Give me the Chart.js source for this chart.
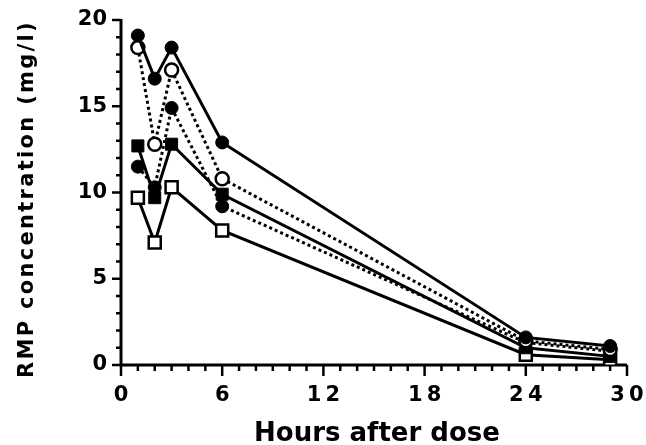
<!DOCTYPE html>
<html>
<head>
<meta charset="utf-8">
<script src="https://cdn.jsdelivr.net/npm/chart.js@4/dist/chart.umd.min.js"></script>
<style>
    html, body { margin: 0; padding: 0; background: #fff; }
    #wrap { width: 646px; height: 445px; }
</style>
</head>
<body>
<div id="wrap"><canvas id="rmp-chart"></canvas></div>
<script>
/* ============================================
   RMP concentration vs hours after dose
   ============================================ */
const hours = [1, 2, 3, 6, 24, 29];

// five profiles, top to bottom at hour 1
const filledCircleHigh = [19.1, 16.6, 18.4, 12.9, 1.6, 1.1];
const openCircle = [18.4, 12.8, 17.1, 10.8, 1.4, 0.9];
const filledSquare = [12.7, 9.7, 12.8, 9.9, 1.0, 0.5];
const filledCircleLow = [11.5, 10.3, 14.9, 9.2, 1.3, 0.8];
const openSquare = [9.7, 7.1, 10.3, 7.8, 0.6, 0.3];

const xTicks = [0, 6, 12, 18, 24, 30];
const yTicks = [0, 5, 10, 15, 20];

const FONT = "'DejaVu Sans', Arial, sans-serif";

const pts = arr => hours.map((h, i) => ({ x: h, y: arr[i] }));

function series(label, data, shape, filled, dotted) {
    return {
        label,
        data: pts(data),
        showLine: true,
        borderColor: '#000',
        borderWidth: 3,
        borderDash: dotted ? [3, 3] : [],
        pointStyle: shape,
        pointRadius: shape === 'rect' ? 8.5 : 6.5,
        pointBackgroundColor: filled ? '#000' : '#fff',
        pointBorderColor: '#000',
        pointBorderWidth: filled ? 1 : 2.5,
        tension: 0
    };
}

// axis lines, major + minor tick marks, axis titles
const axesPlugin = {
    id: 'axesPlugin',
    beforeDatasetsDraw(chart) {
        const { ctx, scales: { x, y } } = chart;
        const x0 = x.getPixelForValue(0), x1 = x.getPixelForValue(30);
        const y0 = y.getPixelForValue(0), y1 = y.getPixelForValue(20);
        ctx.save();
        ctx.strokeStyle = '#000';
        ctx.lineCap = 'butt';
        ctx.lineWidth = 3;
        ctx.beginPath();
        ctx.moveTo(x0, y0); ctx.lineTo(x1, y0);
        ctx.moveTo(x0, y0 + 1.5); ctx.lineTo(x0, y1 - 1);
        ctx.stroke();

        ctx.lineWidth = 2.5;
        ctx.beginPath();
        for (let h = 0; h <= 30; h++) {
            const px = x.getPixelForValue(h);
            const len = xTicks.includes(h) ? 11 : 6;
            ctx.moveTo(px, y0); ctx.lineTo(px, y0 + len);
        }
        for (let v = 0; v <= 20; v++) {
            const py = y.getPixelForValue(v);
            const len = yTicks.includes(v) ? 9 : 5;
            ctx.moveTo(x0, py); ctx.lineTo(x0 - len, py);
        }
        ctx.stroke();
        ctx.restore();
    },
    afterDraw(chart) {
        const { ctx } = chart;
        ctx.save();
        ctx.fillStyle = '#000';
        ctx.textAlign = 'center';
        ctx.textBaseline = 'alphabetic';

        ctx.font = `bold 26px ${FONT}`;
        ctx.fillText('Hours after dose', 377, 441);

        ctx.translate(33, 199);
        ctx.rotate(-Math.PI / 2);
        ctx.font = `bold 21px ${FONT}`;
        ctx.letterSpacing = '2.3px';
        ctx.fillText('RMP concentration (mg/l)', 0, 0);
        ctx.restore();
    }
};

new Chart(document.getElementById('rmp-chart'), {
    type: 'scatter',
    data: {
        datasets: [
            series('Filled circles (high)', filledCircleHigh, 'circle', true, false),
            series('Open circles', openCircle, 'circle', false, true),
            series('Filled squares', filledSquare, 'rect', true, false),
            series('Filled circles (low)', filledCircleLow, 'circle', true, true),
            series('Open squares', openSquare, 'rect', false, false)
        ]
    },
    options: {
        responsive: true, maintainAspectRatio: false,
        animation: false,
        layout: { padding: { top: 20, right: 19, left: 0, bottom: 0 } },
        plugins: { legend: { display: false }, tooltip: { enabled: false } },
        scales: {
            x: {
                type: 'linear', min: 0, max: 30,
                afterFit: s => { s.height = 80; s.paddingLeft = 0; s.paddingRight = 0; },
                afterBuildTicks: s => { s.ticks = xTicks.map(v => ({ value: v })); },
                grid: { display: false, drawTicks: false },
                border: { display: false },
                ticks: {
                    padding: 18, color: '#000',
                    font: { family: FONT, size: 21, weight: 'bold' },
                    callback: v => String(v).split('').join('\u2009')
                }
            },
            y: {
                type: 'linear', min: 0, max: 20,
                afterFit: s => { s.width = 121; s.paddingTop = 0; s.paddingBottom = 0; },
                afterBuildTicks: s => { s.ticks = yTicks.map(v => ({ value: v })); },
                grid: { display: false, drawTicks: false },
                border: { display: false },
                ticks: {
                    padding: 14, color: '#000',
                    font: { family: FONT, size: 21, weight: 'bold' }
                }
            }
        }
    },
    plugins: [axesPlugin]
});
</script>
</body>
</html>
